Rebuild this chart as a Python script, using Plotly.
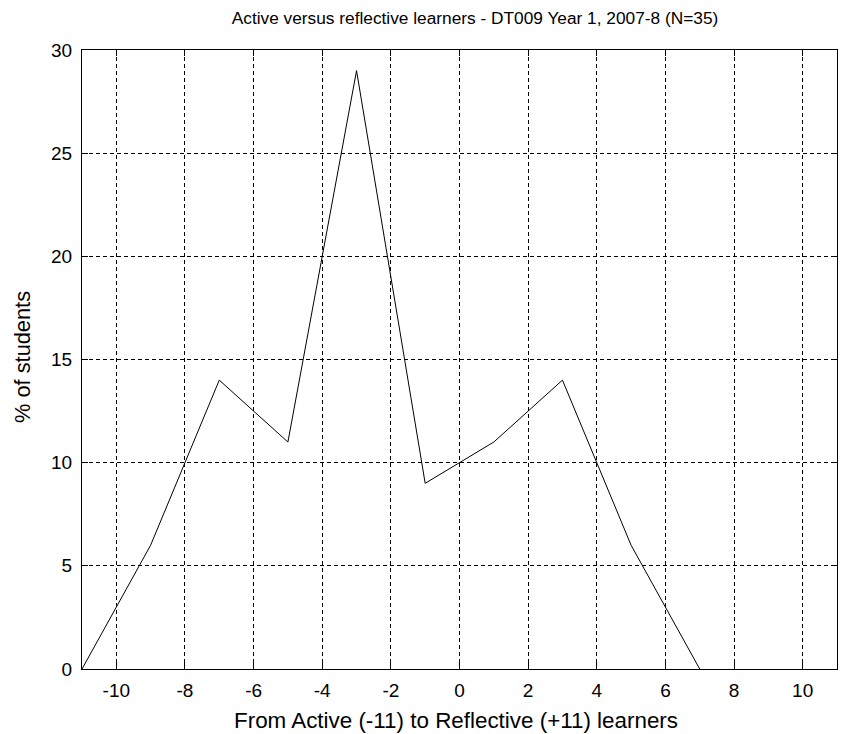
import plotly.graph_objects as go

scores = [-11, -9, -7, -5, -3, -1, 1, 3, 5, 7]
pct_students = [0, 6, 14, 11, 29, 9, 11, 14, 6, 0]
x_ticks = [-10, -8, -6, -4, -2, 0, 2, 4, 6, 8, 10]
y_ticks = [0, 5, 10, 15, 20, 25, 30]

title_text = "Active versus reflective learners - DT009 Year 1, 2007-8 (N=35)"
x_label = "From Active (-11) to Reflective (+11) learners"
y_label = "% of students"

FONT = "Liberation Sans, Arial, sans-serif"

W, H = 841, 734
L, R, T, B = 82, 4, 50, 65
PW, PH = W - L - R, H - T - B

fig = go.Figure()
fig.add_trace(go.Scatter(
    x=scores, y=pct_students, mode="lines",
    line=dict(color="black", width=1), showlegend=False, hoverinfo="x+y",
))

axis_common = dict(
    showline=True, linecolor="black", linewidth=1, mirror="ticks",
    ticks="inside", ticklen=6, tickcolor="black", tickwidth=1,
    showgrid=True, gridcolor="black", gridwidth=1, griddash="4px,3px",
    zeroline=False,
    tickfont=dict(family=FONT, size=19, color="black"),
)

fig.update_layout(
    width=W, height=H,
    paper_bgcolor="white", plot_bgcolor="white",
    margin=dict(l=L, r=R, t=T, b=B),
    title=dict(text=title_text, x=(475 - L) / PW, xanchor="center",
               xref="paper", y=1 - 18 / H, yref="container", yanchor="middle",
               font=dict(family=FONT, size=17.3, color="black")),
    xaxis=dict(range=[-11, 11], tickvals=x_ticks, ticktext=[str(v) for v in x_ticks],
               ticklabelstandoff=4, **axis_common),
    yaxis=dict(range=[0, 30], tickvals=y_ticks, ticktext=[str(v) for v in y_ticks],
               ticklabelstandoff=5, **axis_common),
    annotations=[
        dict(text=x_label, xref="paper", yref="paper",
             x=(455.5 - L) / PW, y=-(720 - (H - B)) / PH,
             xanchor="center", yanchor="middle", showarrow=False,
             font=dict(family=FONT, size=22.4, color="black")),
        dict(text=y_label, xref="paper", yref="paper", textangle=-90,
             x=-(L - 22) / PW, y=1 - (357 - T) / PH,
             xanchor="center", yanchor="middle", showarrow=False,
             font=dict(family=FONT, size=21.8, color="black")),
    ],
)

fig.write_html(
    "out.html",
    config={"displayModeBar": False},
    post_script="document.body.style.margin='0';document.body.style.overflow='hidden';",
)
